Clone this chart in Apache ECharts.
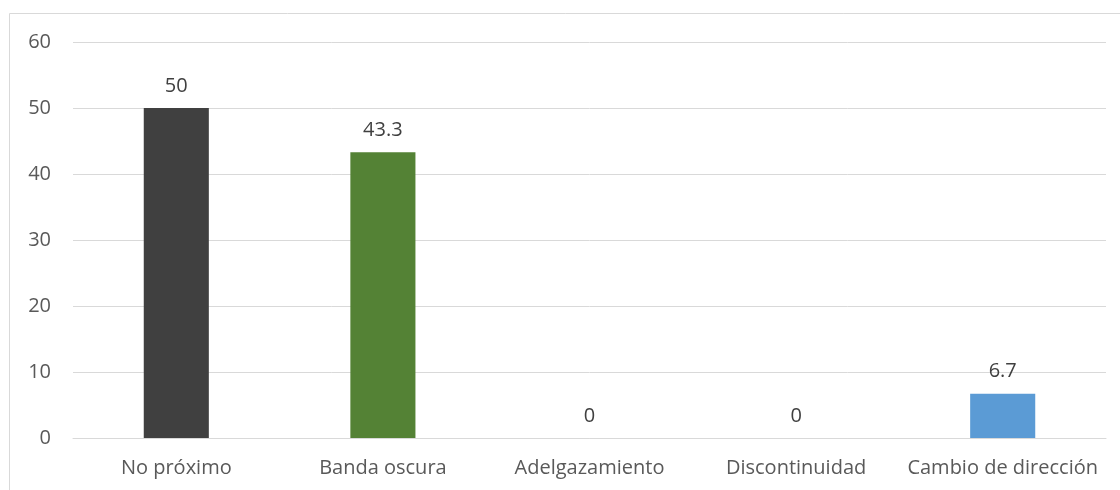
<!DOCTYPE html>
<html>
<head>
<meta charset="utf-8">
<script src="https://cdn.jsdelivr.net/npm/echarts@6/dist/echarts.min.js"></script>
<style>
  html, body { margin: 0; padding: 0; background: #fff; }
  #chart { width: 1120px; height: 490px; }
</style>
</head>
<body>
<div id="chart"></div>
<script>
  // categorías y valores (%)
  var categories = ['No próximo', 'Banda oscura', 'Adelgazamiento', 'Discontinuidad', 'Cambio de dirección'];
  var values = [50, 43.3, 0, 0, 6.7];
  var barColors = ['#404040', '#548235', '#5b9bd5', '#5b9bd5', '#5b9bd5'];
  var yTicks = [0, 10, 20, 30, 40, 50, 60];

  var myChart = echarts.init(document.getElementById('chart'));
  myChart.setOption({
    animation: false,
    textStyle: { fontFamily: 'Open Sans' },
    graphic: [{
      type: 'rect',
      shape: { x: 9.5, y: 13.5, width: 1120, height: 490 },
      style: { fill: 'none', stroke: '#d9d9d9', lineWidth: 1 },
      silent: true
    }],
    grid: { left: 73, right: 14, top: 42, bottom: 52 },
    xAxis: {
      type: 'category',
      data: categories,
      axisLine: { lineStyle: { color: '#d9d9d9' } },
      axisTick: { show: false },
      axisLabel: { color: '#595959', fontSize: 20, margin: 20, interval: 0 }
    },
    yAxis: {
      type: 'value',
      min: yTicks[0],
      max: yTicks[yTicks.length - 1],
      interval: 10,
      axisLine: { show: false },
      axisTick: { show: false },
      axisLabel: { color: '#595959', fontSize: 20, margin: 22,
        formatter: function (v) { return yTicks.indexOf(v) >= 0 ? String(v) : ''; } },
      splitLine: { lineStyle: { color: '#d9d9d9' } }
    },
    series: [{
      type: 'bar',
      barWidth: '31.5%',
      data: values.map(function (v, i) {
        return { value: v, itemStyle: { color: barColors[i] } };
      }),
      label: {
        show: true,
        position: 'top',
        distance: 12,
        color: '#404040',
        fontSize: 20
      }
    }]
  });
</script>
</body>
</html>
